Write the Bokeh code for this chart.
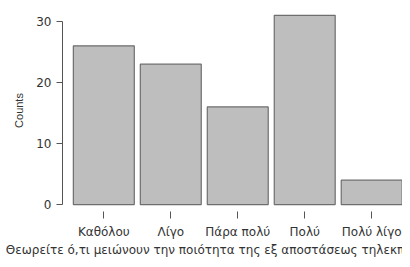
from bokeh.plotting import figure
from bokeh.models import Range1d, FixedTicker, ColumnDataSource
from bokeh.embed import file_html
from bokeh.resources import INLINE

categories = ["Καθόλου", "Λίγο", "Πάρα πολύ", "Πολύ", "Πολύ λίγο"]
counts = [26, 23, 16, 31, 4]
y_ticks = [0, 10, 20, 30]
x_title = "Θεωρείτε ό,τι μειώνουν την ποιότητα της εξ αποστάσεως τηλεκπαίδευσης"
y_title = "Counts"

positions = list(range(1, len(categories) + 1))
source = ColumnDataSource(dict(x=positions, top=counts, cat=categories))

p = figure(width=402, height=259, output_backend="svg", toolbar_location=None,
           x_range=Range1d(0.383, 5.46), y_range=Range1d(-1.14, 31.96),
           min_border_left=62, min_border_right=0, min_border_top=9, min_border_bottom=47)

p.vbar(x="x", top="top", bottom=0, width=0.91, source=source,
       fill_color="#bebebe", line_color="#6e6e6e", line_width=1.2)

p.outline_line_color = None
p.grid.visible = False
p.background_fill_color = "white"
p.border_fill_color = "white"

ya = p.yaxis[0]
ya.ticker = FixedTicker(ticks=y_ticks)
ya.bounds = (0, 30)
ya.major_tick_out = 6
ya.major_tick_in = 0
ya.minor_tick_out = 0
ya.minor_tick_in = 0
ya.axis_line_color = "#555555"
ya.major_tick_line_color = "#555555"
ya.major_label_text_font = "DejaVu Sans"
ya.major_label_text_font_size = "12px"
ya.major_label_text_color = "#333333"
ya.major_label_standoff = 5
ya.axis_label = y_title
ya.axis_label_text_font = "Liberation Sans"
ya.axis_label_text_font_size = "11px"
ya.axis_label_text_font_style = "normal"
ya.axis_label_text_color = "#333333"
ya.axis_label_standoff = 8

xa = p.xaxis[0]
xa.ticker = FixedTicker(ticks=positions)
xa.major_label_overrides = {pos: c for pos, c in zip(positions, categories)}
xa.axis_line_color = None
xa.major_tick_out = 7
xa.major_tick_in = 0
xa.minor_tick_out = 0
xa.minor_tick_in = 0
xa.major_tick_line_color = "#555555"
xa.major_label_text_font = "DejaVu Sans"
xa.major_label_text_font_size = "12px"
xa.major_label_text_color = "#333333"
xa.major_label_standoff = 6
xa.axis_label = x_title
xa.axis_label_text_font = "DejaVu Sans"
xa.axis_label_text_font_size = "12px"
xa.axis_label_text_font_style = "normal"
xa.axis_label_text_color = "#333333"
xa.axis_label_standoff = 1

open("out.html", "w").write(file_html(p, INLINE))
